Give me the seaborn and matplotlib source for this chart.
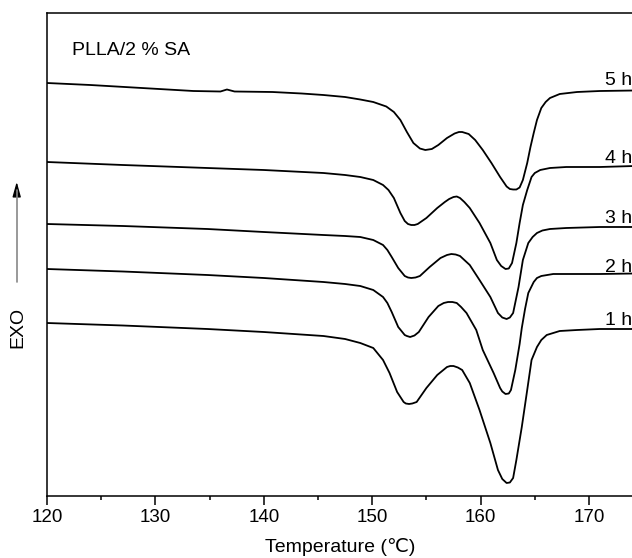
# DSC curves of PLLA/2 % SA after different annealing times
import numpy as np
import pandas as pd
import seaborn as sns
import matplotlib.pyplot as plt
from matplotlib.ticker import MultipleLocator
from matplotlib.lines import Line2D

# %%
# data (temperature in C, heat flow in arbitrary units)
t_5h = [120.0, 124.0, 133.5, 136.0, 136.6, 137.3, 140.8, 143.5, 145.5, 147.5, 148.9, 150.1,
        151.3, 152.0, 152.6, 153.2, 153.8, 154.4, 154.9, 155.5, 156.1, 156.9, 157.6, 158.0,
        158.3, 158.9, 159.5, 160.2, 161.0, 161.8, 162.4, 162.7, 163.0, 163.3, 163.6, 163.9,
        164.3, 164.6, 164.9, 165.2, 165.6, 166.0, 166.4, 167.3, 168.9, 171.0, 174.2]
y_5h = [41.3, 41.1, 40.5, 40.45, 40.65, 40.45, 40.4, 40.25, 40.1, 39.9, 39.65, 39.4,
        38.95, 38.4, 37.6, 36.4, 35.3, 34.75, 34.6, 34.7, 35.1, 35.8, 36.25, 36.4,
        36.4, 36.2, 35.6, 34.6, 33.3, 31.9, 30.95, 30.7, 30.65, 30.65, 30.85, 31.6,
        33.3, 34.9, 36.3, 37.6, 38.8, 39.4, 39.8, 40.2, 40.4, 40.5, 40.55]

t_4h = [120.0, 127.0, 134.8, 140.0, 145.5, 147.5, 148.9, 150.1, 151.0, 151.5, 152.0, 152.6,
        153.0, 153.3, 153.6, 153.9, 154.2, 155.0, 156.0, 156.7, 157.1, 157.5, 157.8, 158.1,
        158.5, 159.0, 159.9, 160.9, 161.5, 161.9, 162.3, 162.6, 162.9, 163.3, 163.6, 163.9,
        164.3, 164.7, 165.0, 165.5, 166.4, 167.9, 171.0, 174.2]
y_4h = [33.4, 33.1, 32.8, 32.6, 32.3, 32.1, 31.9, 31.6, 31.1, 30.6, 29.8, 28.3,
        27.5, 27.2, 27.1, 27.1, 27.2, 27.8, 28.8, 29.4, 29.7, 29.9, 29.95, 29.8,
        29.4, 28.8, 27.3, 25.3, 23.6, 23.0, 22.7, 22.75, 23.3, 25.3, 27.3, 29.1,
        30.6, 31.9, 32.3, 32.6, 32.8, 32.9, 32.9, 33.0]

t_3h = [120.0, 127.0, 134.8, 140.0, 145.5, 147.5, 148.9, 150.1, 151.0, 151.4, 151.8, 152.4,
        153.0, 153.3, 153.6, 154.0, 154.4, 155.3, 156.3, 156.9, 157.3, 157.7, 158.1, 158.5,
        159.0, 159.9, 160.9, 161.6, 162.0, 162.4, 162.7, 163.0, 163.5, 163.9, 164.4, 164.8,
        165.2, 165.7, 166.4, 167.9, 171.0, 174.2]
y_3h = [27.2, 27.0, 26.7, 26.4, 26.1, 26.0, 25.9, 25.6, 25.1, 24.6, 23.9, 22.8,
        22.0, 21.85, 21.8, 21.85, 22.0, 22.9, 23.8, 24.1, 24.2, 24.15, 24.0, 23.6,
        23.1, 21.6, 19.9, 18.3, 17.85, 17.7, 17.85, 18.3, 20.9, 23.6, 25.3, 25.9,
        26.3, 26.55, 26.7, 26.8, 26.9, 26.9]

t_2h = [120.0, 127.0, 134.8, 140.0, 145.5, 147.5, 148.9, 150.1, 151.0, 151.4, 151.8, 152.4,
        153.0, 153.2, 153.5, 153.9, 154.3, 155.2, 156.1, 156.6, 157.0, 157.4, 157.8, 158.2,
        158.7, 159.6, 160.2, 161.2, 161.8, 162.0, 162.3, 162.6, 162.8, 163.2, 163.6, 163.8,
        164.1, 164.4, 164.9, 165.2, 165.6, 166.7, 171.0, 174.2]
y_2h = [22.7, 22.45, 22.1, 21.8, 21.4, 21.2, 21.0, 20.6, 19.9, 19.3, 18.4, 16.9,
        16.1, 16.0, 15.9, 16.05, 16.4, 17.9, 19.0, 19.3, 19.4, 19.4, 19.3, 18.9,
        18.3, 16.6, 14.6, 12.3, 10.8, 10.45, 10.2, 10.25, 10.6, 12.6, 15.2, 16.8,
        18.7, 20.3, 21.4, 21.8, 22.0, 22.2, 22.2, 22.25]

t_1h = [120.0, 127.0, 134.8, 140.0, 145.5, 147.5, 148.9, 150.1, 151.0, 151.6, 152.3, 152.9,
        153.1, 153.4, 153.7, 154.1, 155.0, 156.0, 156.9, 157.2, 157.5, 157.9, 158.3, 159.0,
        159.9, 160.9, 161.6, 162.0, 162.4, 162.7, 163.0, 163.3, 163.8, 164.3, 164.7, 165.2,
        165.6, 166.1, 167.3, 168.9, 171.0, 174.2]
y_1h = [17.3, 17.05, 16.7, 16.4, 16.0, 15.7, 15.3, 14.8, 13.6, 12.3, 10.4, 9.4,
        9.25, 9.2, 9.25, 9.4, 10.8, 12.1, 12.9, 13.0, 13.0, 12.85, 12.6, 11.3,
        8.6, 5.3, 2.6, 1.7, 1.3, 1.35, 1.8, 3.6, 6.9, 10.6, 13.6, 14.9,
        15.6, 16.1, 16.5, 16.6, 16.7, 16.7]

labels = ['5 h', '4 h', '3 h', '2 h', '1 h']
curves = [(t_5h, y_5h), (t_4h, y_4h), (t_3h, y_3h), (t_2h, y_2h), (t_1h, y_1h)]
# where the time labels sit (x, baseline y)
label_x = 171.5
label_y = [41.1, 33.3, 27.3, 22.4, 17.1]

# %%
sns.set_style('ticks')
plt.rcParams['font.family'] = ['Liberation Sans', 'DejaVu Sans']
plt.rcParams['text.color'] = 'black'
plt.rcParams['xtick.color'] = 'black'
plt.rcParams['axes.labelcolor'] = 'black'

fig = plt.figure(figsize=(6.32, 5.58), dpi=100)
ax = fig.add_axes([47/632, 62/558, 587/632, 483/558])

for (t, y) in curves:
    sns.lineplot(x=t, y=y, color='black', lw=1.3, ax=ax, sort=False, estimator=None)

for lab, ly in zip(labels, label_y):
    ax.text(label_x, ly, lab, fontsize=14, ha='left', va='baseline', clip_on=False)

ax.text(122.3, 44.1, 'PLLA/2 % SA', fontsize=14, ha='left', va='baseline')

ax.set(xlim=(120, 120 + 587/10.84), ylim=(0, 48.3))
ax.set_xticks(np.arange(120, 171, 10))
ax.xaxis.set_minor_locator(MultipleLocator(5))
ax.set_yticks([])
ax.tick_params(axis='x', which='major', direction='out', length=6.5, width=1.1,
               labelsize=13.5, pad=3, colors='black')
ax.tick_params(axis='x', which='minor', direction='out', length=3.2, width=1.1)
for s in ['left', 'top', 'bottom']:
    ax.spines[s].set_linewidth(1.1)
    ax.spines[s].set_color('black')
ax.spines['right'].set_visible(False)

ax.set_xlabel('Temperature (\u2103)', fontsize=14)
ax.xaxis.set_label_coords(0.5, -0.086)
ax.set_ylabel('')

# EXO arrow on the left
fig.text(18/632, 1 - 327/558, 'EXO', rotation=90, ha='center', va='center', fontsize=14)
fig.add_artist(Line2D([16.7/632, 16.7/632], [1 - 282/558, 1 - 190/558],
                      transform=fig.transFigure, color='#888888', lw=1.2))
ax.annotate('', xy=(16.7/632, 1 - 179/558), xytext=(16.7/632, 1 - 192/558),
            xycoords='figure fraction', textcoords='figure fraction',
            arrowprops=dict(arrowstyle='-|>,head_length=0.9,head_width=0.25',
                            color='black', lw=1.0, mutation_scale=10))

fig.savefig('out.png', dpi=100)
